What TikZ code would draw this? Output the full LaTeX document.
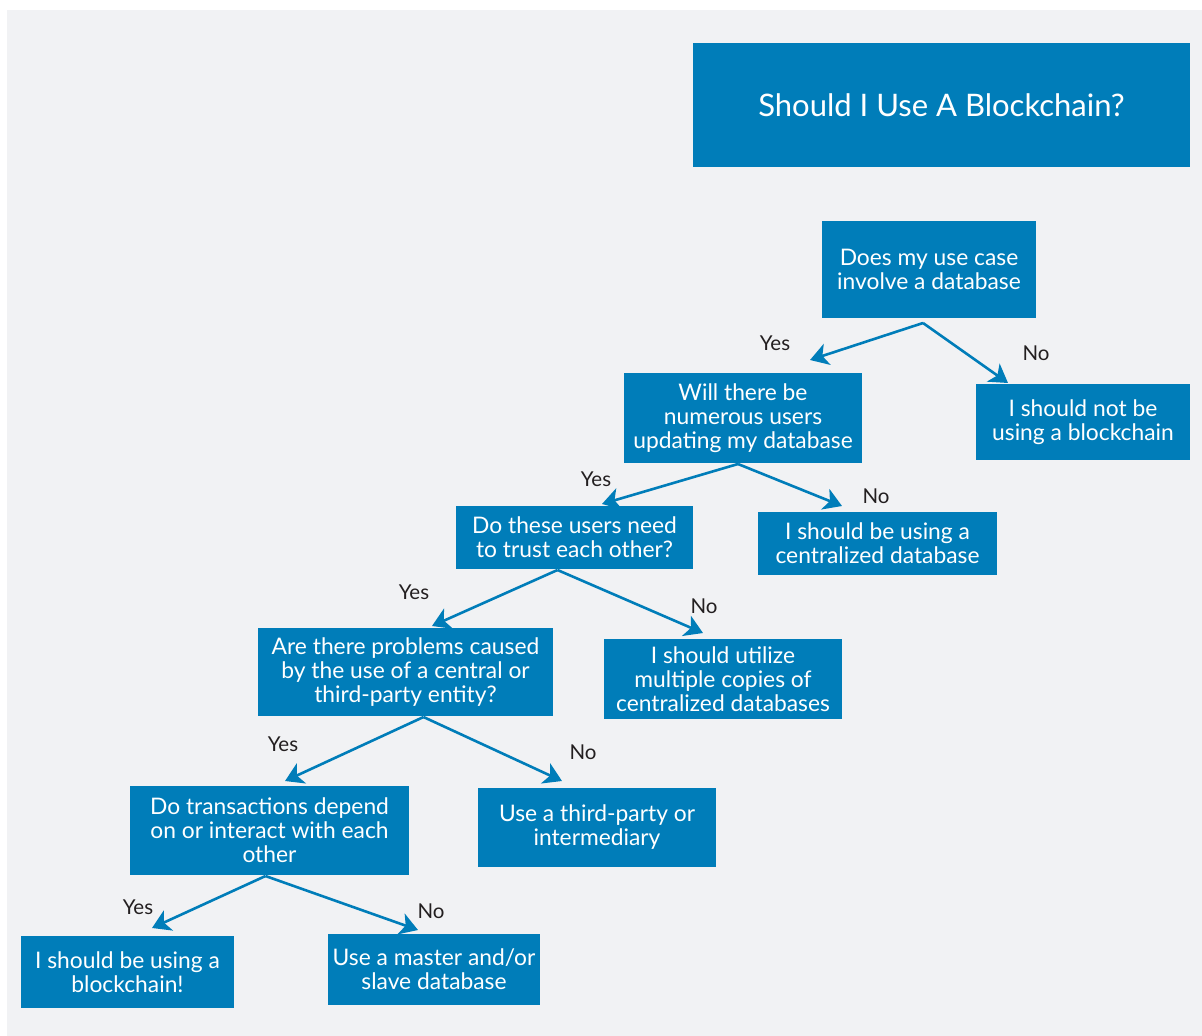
\documentclass[tikz,border=0pt]{standalone}
\usepackage{fontspec}
\setmainfont{Lato}
\usetikzlibrary{arrows.meta}

\definecolor{chartblue}{RGB}{0,125,185}
\definecolor{chartback}{RGB}{241,242,244}
\definecolor{labelink}{RGB}{35,31,32}

\begin{document}
\begin{tikzpicture}[
            x=1pt,
            y=1pt,
            qbox/.style={fill=chartblue, text=white, inner sep=0pt, outer sep=0pt, align=center, font=\fontsize{22.8}{24}\selectfont},
            answer/.style={text=labelink, inner sep=0pt, font=\fontsize{20.5}{24}\selectfont},
            flow/.style={draw=chartblue, line width=2.6pt, -{Stealth[length=18pt, width=22pt, inset=5pt]}}
        ]
        \useasboundingbox[fill=white] (0,0) rectangle (1202,-1036);
        \fill[chartback] (7,-10) rectangle (1202,-1036);
        % title
        \node[qbox, minimum width=497pt, minimum height=124pt, font=\fontsize{31}{38}\selectfont] (title) at (941.5,-105) {Should I Use A Blockchain?};
        % questions and answers
        \node[qbox, minimum width=214pt, minimum height=97pt] (q1) at (929,-269.5) {Does my use case\\involve a database};
        \node[qbox, minimum width=214pt, minimum height=76pt] (n1) at (1083,-422) {I should not be\\using a blockchain};
        \node[qbox, minimum width=238pt, minimum height=90pt] (q2) at (743,-418) {Will there be\\numerous users\\updating my database};
        \node[qbox, minimum width=239pt, minimum height=63pt] (n2) at (877.5,-543.5) {I should be using a\\centralized database};
        \node[qbox, minimum width=237pt, minimum height=63pt] (q3) at (574.5,-537.5) {Do these users need\\to trust each other?};
        \node[qbox, minimum width=238pt, minimum height=80pt] (n3) at (723,-679) {I should utilize\\multiple copies of\\centralized databases};
        \node[qbox, minimum width=295pt, minimum height=88pt] (q4) at (405.5,-672) {Are there problems caused\\by the use of a central or\\third-party entity?};
        \node[qbox, minimum width=238pt, minimum height=79pt] (n4) at (597,-827.5) {Use a third-party or\\intermediary};
        \node[qbox, minimum width=279pt, minimum height=89pt] (q5) at (269.5,-830.5) {Do transactions depend\\on or interact with each\\other};
        \node[qbox, minimum width=213pt, minimum height=72pt] (yb) at (127.5,-972) {I should be using a\\blockchain!};
        \node[qbox, minimum width=212pt, minimum height=71pt] (n5) at (434,-969.5) {Use a master and/or\\slave database};
        % arrows
        \foreach \src/\sx/\sy/\dst/\dx/\dy in {
                q1/-6/-5/q2/67/13,
                q1/-6/-5/n1/-75/1,
                q2/-5/-1/q3/27.5/2,
                q2/-5/-1/n2/-35.5/6,
                q3/-17/-1/q4/26.5/2,
                q3/-17/-1/n3/-20/6,
                q4/18/-1/q5/15.5/5,
                q4/18/-1/n4/-35/7,
                q5/-4/-1/yb/24.5/8,
                q5/-4/-1/n5/-16/4
            } {
                \draw[flow] ([shift={(\sx pt,\sy pt)}]\src.south) -- ([shift={(\dx pt,\dy pt)}]\dst.north);
            }
        % yes / no
        \foreach \lbl/\lx/\ly/\word in {
                y1/775/343/Yes, o1/1036/353/No,
                y2/596/479/Yes, o2/876/496/No,
                y3/414/592/Yes, o3/704/606/No,
                y4/283/744/Yes, o4/583/752/No,
                y5/138/907/Yes, o5/431/911/No
            } {
                \node[answer] (\lbl) at (\lx,-\ly) {\word};
            }
    \end{tikzpicture}
\end{document}
